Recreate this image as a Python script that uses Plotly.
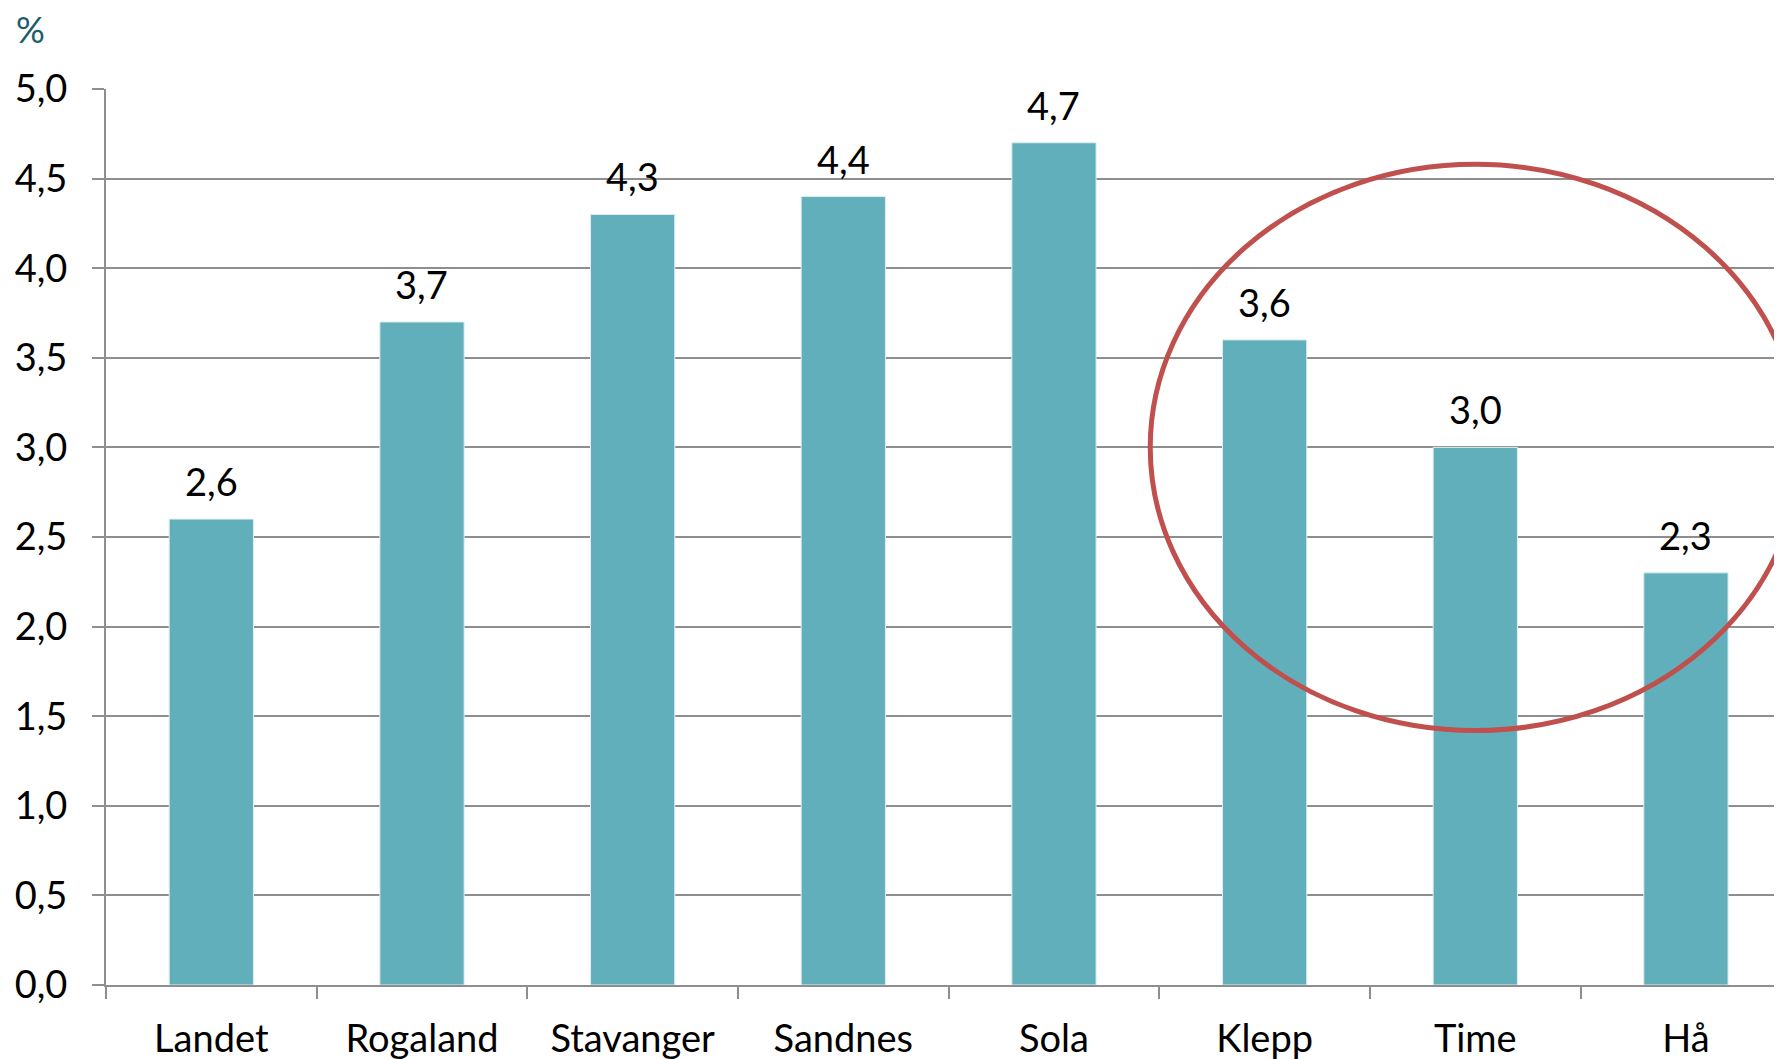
import plotly.graph_objects as go

categories = ["Landet", "Rogaland", "Stavanger", "Sandnes", "Sola", "Klepp", "Time", "Hå"]
values = [2.6, 3.7, 4.3, 4.4, 4.7, 3.6, 3.0, 2.3]
y_ticks = [0.0, 0.5, 1.0, 1.5, 2.0, 2.5, 3.0, 3.5, 4.0, 4.5, 5.0]
unit_label = "%"

FONT = "Lato"
BAR_COLOR = "#62AFBC"
GRID = "#8E8E8E"
FS = 38

fig = go.Figure()
fig.add_trace(go.Bar(
    x=categories, y=values, width=0.4,
    marker=dict(color=BAR_COLOR, line=dict(color="#DDEFF2", width=1)),
    hoverinfo="skip",
))

for c, v in zip(categories, values):
    fig.add_annotation(x=c, y=v, xref="x", yref="y", text=f"{v:.1f}".replace(".", ","),
                       showarrow=False, yanchor="bottom", yshift=13,
                       font=dict(family=FONT, size=FS, color="black"))

fig.add_annotation(x=0, y=1, xref="paper", yref="paper", text=unit_label, showarrow=False,
                   xanchor="left", yanchor="middle", xshift=-92, yshift=60,
                   font=dict(family=FONT, size=36, color="#1B5E66"))

# highlight ellipse around Klepp, Time, Hå
fig.add_shape(type="circle", xref="x", yref="y", x0=4.457, x1=7.543, y0=1.42, y1=4.58,
              line=dict(color="#C0504D", width=5), layer="above")

fig.update_layout(
    width=1774, height=1051,
    margin=dict(l=98, r=0, t=81, b=74),
    plot_bgcolor="white", paper_bgcolor="white",
    separators=",.",
    showlegend=False,
    font=dict(family=FONT, size=FS, color="black"),
)
fig.update_xaxes(
    type="category", range=[-0.5, 7.456],
    tickson="boundaries", ticks="outside", ticklen=12, tickwidth=2, tickcolor=GRID,
    showline=True, linecolor=GRID, linewidth=2, showgrid=False, zeroline=False,
    ticklabelstandoff=19, tickfont=dict(family=FONT, size=FS, color="black"),
)
fig.update_yaxes(
    range=[0, 5], tickmode="array", tickvals=y_ticks, tickformat=".1f",
    ticks="outside", ticklen=12, tickwidth=2, tickcolor=GRID,
    showline=True, linecolor=GRID, linewidth=2, showgrid=True, gridcolor=GRID, gridwidth=2,
    zeroline=False, ticklabelstandoff=17, tickfont=dict(family=FONT, size=FS, color="black"),
)

fig.write_html("out.html")
